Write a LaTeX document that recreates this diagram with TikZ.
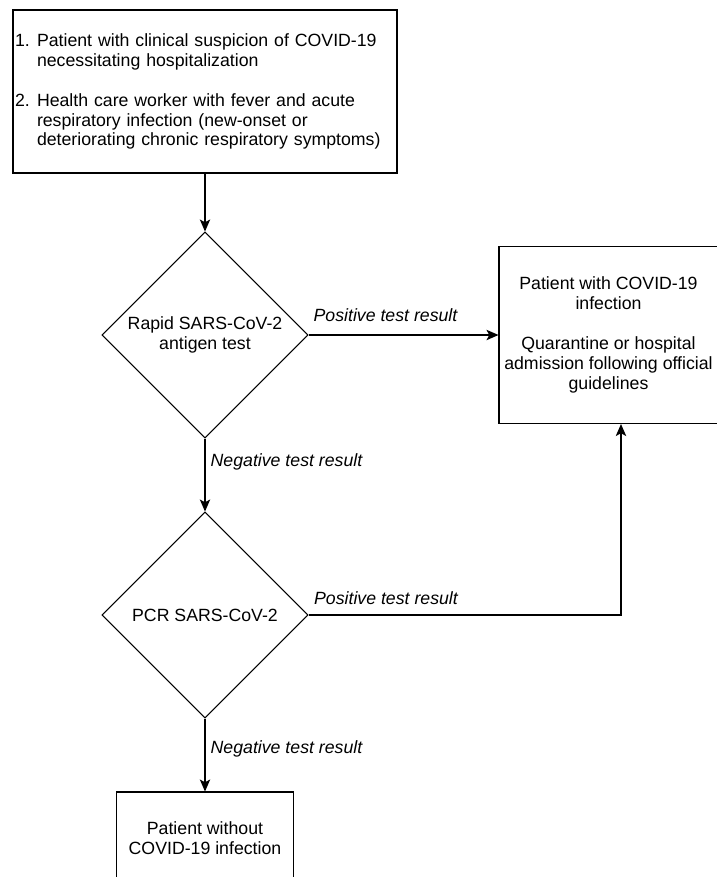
\documentclass[tikz,border=0pt]{standalone}
\usepackage{fontspec}
\setmainfont{Liberation Sans}
\usetikzlibrary{shapes.geometric,arrows.meta}
\newcommand{\itemlabel}[1]{\makebox[0.55cm][l]{#1}}
\begin{document}
\begin{tikzpicture}[
    font=\fontsize{12.6}{14.2}\selectfont,
    box/.style={draw,line width=0.75pt,align=center,inner sep=0.05cm},
    test/.style={draw,diamond,line width=0.75pt,align=center,inner sep=0pt,
      minimum width=5.15cm,minimum height=5.15cm},
    result/.style={font=\fontsize{12.6}{14.2}\selectfont\itshape},
    flow/.style={line width=0.75pt,-{Stealth[length=0.3cm,width=0.26cm,inset=0.07cm]}}
  ]
  \useasboundingbox (0,0) rectangle (17.925,-21.925);
  \node[box,align=left,text width=9.5cm,minimum height=4.075cm] (start) at (5.125,-2.2875)
    {\itemlabel{1.}Patient with clinical suspicion of COVID-19\\
     \itemlabel{}necessitating hospitalization\\[14.2pt]
     \itemlabel{2.}Health care worker with fever and acute\\
     \itemlabel{}respiratory infection (new-onset or\\
     \itemlabel{}deteriorating chronic respiratory symptoms)};
  \node[test] (ant) at (5.125,-8.375) {Rapid SARS-CoV-2\\antigen test};
  \node[test] (pcr) at (5.125,-15.375) {PCR SARS-CoV-2};
  \node[box,minimum width=5.475cm,minimum height=4.425cm] (pos) at (15.2125,-8.375)
    {Patient with COVID-19\\infection\\[14.2pt]Quarantine or hospital\\admission following official\\guidelines};
  \node[box,minimum width=4.425cm,minimum height=2.325cm] (neg) at (5.125,-20.9625)
    {Patient without\\COVID-19 infection};
  \coordinate (turn) at (15.525,-15.375);

  \draw[flow] (start.south) -- (ant.north);
  \draw[flow] (ant.east) -- (ant.east -| pos.west);
  \draw[flow] (ant.south) -- (pcr.north);
  \draw[flow] (pcr.east) -- (turn) -- (turn |- pos.south);
  \draw[flow] (pcr.south) -- (neg.north);

  \node[result] (pos1) at (9.6375,-7.875) {Positive test result};
  \node[result] (neg1) at (7.1625,-11.55) {Negative test result};
  \node[result] (pos2) at (9.65,-14.95) {Positive test result};
  \node[result] (neg2) at (7.1625,-18.725) {Negative test result};
\end{tikzpicture}
\end{document}
